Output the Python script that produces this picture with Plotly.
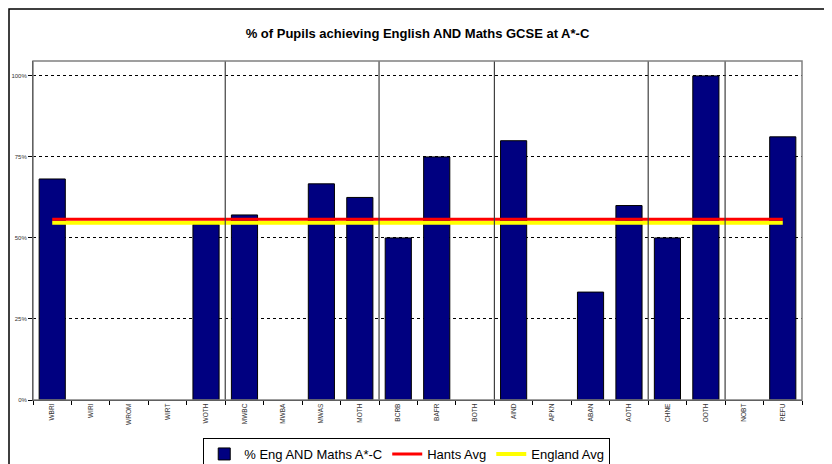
import plotly.graph_objects as go

# ethnic group codes shown along the x axis
categories = ["WBRI", "WIRI", "WROM", "WIRT", "WOTH",
              "MWBC", "MWBA", "MWAS", "MOTH",
              "BCRB", "BAFR", "BOTH",
              "AIND", "APKN", "ABAN", "AOTH",
              "CHNE", "OOTH",
              "NOBT", "REFU"]
# None = no value shown for that group
pct_eng_maths = [68.2, None, None, None, 54.2,
                 57.1, None, 66.7, 62.5,
                 50.0, 75.0, None,
                 80.0, None, 33.3, 60.0,
                 50.0, 100.0,
                 None, 81.2]
hants_avg = 55.8
england_avg = 54.7
# last category of each group (a divider is drawn after it)
group_ends = ["WOTH", "MOTH", "BOTH", "AOTH", "OOTH"]

FONT = "Liberation Sans"
# the page puts the figure 8px in from the top-left corner
W, H = 824, 456
L, R, T, B = 25, 30, 53, 64
PW, PH = W - L - R, H - T - B

fig = go.Figure()
fig.add_trace(go.Bar(
    x=categories,
    y=pct_eng_maths,
    name="% Eng AND Maths A*-C",
    marker=dict(color="#000080", line=dict(color="black", width=1)),
    width=0.68,
    legendrank=1,
))
fig.add_trace(go.Scatter(
    x=categories,
    y=[england_avg] * len(categories),
    name="England Avg",
    mode="lines",
    line=dict(color="#ffff00", width=4),
    legendrank=3,
))
fig.add_trace(go.Scatter(
    x=categories,
    y=[hants_avg] * len(categories),
    name="Hants Avg",
    mode="lines",
    line=dict(color="#ff0000", width=3),
    legendrank=2,
))

shapes = []
for c in group_ends:
    xpos = categories.index(c) + 0.5
    shapes.append(dict(type="line", xref="x", yref="paper", x0=xpos, x1=xpos,
                       y0=0, y1=1, line=dict(color="#404040", width=1.2)))
# plot area border
shapes.append(dict(type="rect", xref="paper", yref="paper", x0=0, x1=1, y0=0, y1=1,
                   line=dict(color="#808080", width=1.5)))
# outer chart frame (right and bottom edges fall off the page)
shapes.append(dict(type="rect", xref="paper", yref="paper",
                   x0=-(L - 1) / PW, x1=1 + (R + 5) / PW, y0=-0.4, y1=1 + (T - 1) / PH,
                   line=dict(color="black", width=1.5)))

fig.update_layout(
    width=W,
    height=H,
    margin=dict(l=L, r=R, t=T, b=B, autoexpand=False),
    paper_bgcolor="white",
    plot_bgcolor="white",
    font=dict(family=FONT, color="black"),
    title=dict(text="<b>% of Pupils achieving English AND Maths GCSE at A*-C</b>",
               x=0.5, xref="paper", xanchor="center", y=1 - 25 / H, yanchor="middle",
               font=dict(size=13, family=FONT)),
    showlegend=True,
    legend=dict(orientation="h", x=0.486, xanchor="center", y=-38 / PH, yanchor="top",
                bordercolor="black", borderwidth=1, font=dict(size=13, family=FONT),
                itemwidth=30, tracegroupgap=0),
    shapes=shapes,
    xaxis=dict(
        type="category",
        tickangle=-90,
        tickson="boundaries",
        ticks="outside",
        ticklen=4,
        tickcolor="black",
        tickfont=dict(size=6.5, color="#333333"),
        showgrid=False,
        showline=True,
        linecolor="black",
        range=[-0.5, len(categories) - 0.5],
    ),
    yaxis=dict(
        range=[0, 104.6],
        tickvals=[0, 25, 50, 75, 100],
        ticktext=["0%", "25%", "50%", "75%", "100%"],
        ticks="outside",
        ticklen=4,
        tickcolor="black",
        tickfont=dict(size=6, color="#333333"),
        showgrid=True,
        gridcolor="black",
        griddash="3px,3px",
        gridwidth=1,
        zeroline=False,
        showline=True,
        linecolor="black",
    ),
)

fig.write_html("out.html")
